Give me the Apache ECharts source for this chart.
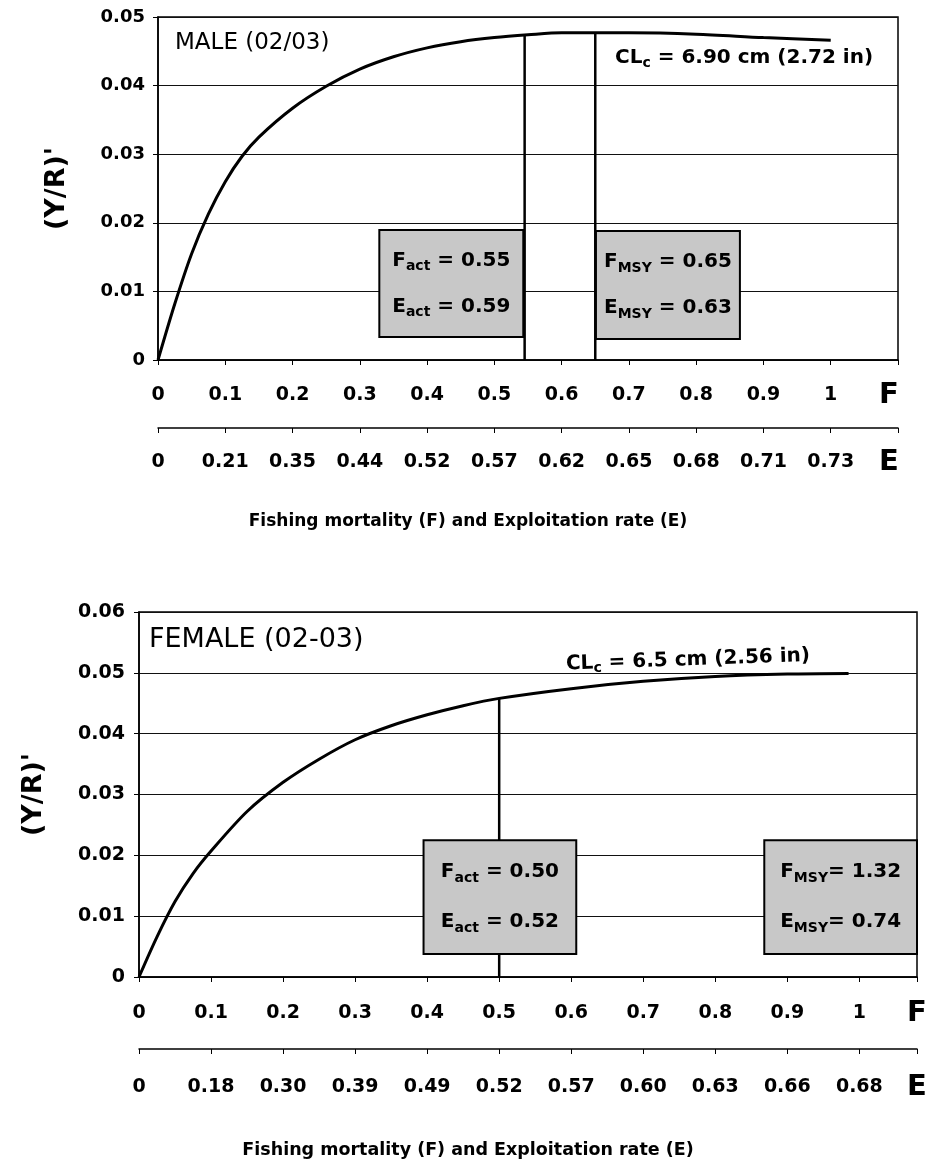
<!DOCTYPE html>
<html>
<head>
<meta charset="utf-8">
<script src="https://cdn.jsdelivr.net/npm/echarts@6/dist/echarts.min.js"></script>
<style>
html,body{margin:0;padding:0;background:#fff;}
#chart{width:932px;height:1169px;}
</style>
</head>
<body>
<div id="chart"></div>
<script>
// ---------- data ----------
const fTicks = ['0','0.1','0.2','0.3','0.4','0.5','0.6','0.7','0.8','0.9','1'];
const maleETicks = ['0','0.21','0.35','0.44','0.52','0.57','0.62','0.65','0.68','0.71','0.73'];
const femaleETicks = ['0','0.18','0.30','0.39','0.49','0.52','0.57','0.60','0.63','0.66','0.68'];
const maleYTicks = ['0','0.01','0.02','0.03','0.04','0.05'];
const femaleYTicks = ['0','0.01','0.02','0.03','0.04','0.05','0.06'];

const maleF = [0, 0.025, 0.05, 0.075, 0.1, 0.125, 0.15, 0.2, 0.25, 0.3, 0.35, 0.4, 0.45, 0.5, 0.55, 0.6, 0.65, 0.7, 0.8, 0.9, 1.0];
const maleY = [0, 0.0082, 0.0155, 0.0213, 0.0260, 0.0297, 0.0325, 0.0367, 0.0399, 0.0424, 0.0442, 0.0455, 0.0464, 0.0470, 0.0474, 0.0477, 0.0477, 0.0477, 0.0475, 0.0470, 0.0466];

const femaleF = [0, 0.025, 0.05, 0.075, 0.1, 0.15, 0.2, 0.25, 0.3, 0.35, 0.4, 0.45, 0.5, 0.6, 0.7, 0.8, 0.9, 0.985];
const femaleY = [0, 0.0066, 0.0124, 0.0170, 0.0207, 0.0272, 0.0320, 0.0358, 0.0390, 0.0413, 0.0431, 0.0446, 0.0458, 0.0474, 0.0486, 0.0494, 0.0498, 0.0499];

// reference lines [F, top of line]
const maleActLine = [0.545, 0.0474];
const maleMsyLine = [0.65, 0.0477];
const femaleActLine = [0.5, 0.0457];

// annotation boxes: [xFrom, yFrom, xTo, yTo]
const maleActBox = [0.329, 0.01895, 0.543, 0.00335];
const maleMsyBox = [0.651, 0.0188, 0.865, 0.00306];
const femaleActBox = [0.395, 0.0225, 0.607, 0.0038];
const femaleMsyBox = [0.868, 0.0225, 1.08, 0.0038];

const maleActText = ['act', '0.55', '0.59', ' = '];
const maleMsyText = ['MSY', '0.65', '0.63', ' = '];
const femaleActText = ['act', '0.50', '0.52', ' = '];
const femaleMsyText = ['MSY', '1.32', '0.74', '= '];

// ---------- helpers ----------
const FONT = 'DejaVu Sans';
function zip(a, b) { return a.map((v, i) => [v, b[i]]); }

function boxLabel(t) {
  return '{m|F}{s|' + t[0] + '}{m|' + t[3] + t[1] + '}\n{m|E}{s|' + t[0] + '}{m|' + t[3] + t[2] + '}';
}
function boxItem(b, t, lh) {
  return [
    { xAxis: b[0], yAxis: b[1],
      label: { show: true, position: 'inside', formatter: boxLabel(t), color: '#000',
        rich: {
          m: { fontFamily: FONT, fontSize: 20, fontWeight: 'bold', color: '#000', lineHeight: lh },
          s: { fontFamily: FONT, fontSize: 14, fontWeight: 'bold', color: '#000', padding: [12, 0, 0, 0] }
        } } },
    { xAxis: b[2], yAxis: b[3] }
  ];
}

function xAxisF(grid, max, margin, bigPad) {
  return {
    gridIndex: grid, type: 'value', min: 0, max: max, interval: 0.1, position: 'bottom',
    axisLine: { show: true, onZero: false, lineStyle: { color: '#000', width: 1.5 } },
    axisTick: { show: true, length: 5, lineStyle: { color: '#000', width: 1 } },
    splitLine: { show: false },
    axisLabel: {
      margin: margin, color: '#000', fontFamily: FONT, fontSize: 19, fontWeight: 'bold', lineHeight: 20,
      formatter: v => { const i = Math.round(v * 10); return i <= 10 ? fTicks[i] : '{big|F}'; },
      rich: { big: { fontFamily: FONT, fontSize: 29, fontWeight: 'bold', color: '#000', lineHeight: 20, padding: [0, bigPad, 0, 0] } }
    }
  };
}
function xAxisE(grid, max, offset, margin, labels, bigPad) {
  return {
    gridIndex: grid, type: 'value', min: 0, max: max, interval: 0.1, position: 'bottom', offset: offset,
    axisLine: { show: true, onZero: false, lineStyle: { color: '#000', width: 1.5 } },
    axisTick: { show: true, length: 5, lineStyle: { color: '#000', width: 1 } },
    splitLine: { show: false },
    axisLabel: {
      margin: margin, color: '#000', fontFamily: FONT, fontSize: 19, fontWeight: 'bold', lineHeight: 20,
      formatter: v => { const i = Math.round(v * 10); return i <= 10 ? labels[i] : '{big|E}'; },
      rich: { big: { fontFamily: FONT, fontSize: 29, fontWeight: 'bold', color: '#000', lineHeight: 20, padding: [0, bigPad, 0, 0] } }
    }
  };
}
function yAxisDef(grid, max, labels, margin, nameGap, fs) {
  return {
    gridIndex: grid, type: 'value', min: 0, max: max, interval: 0.01,
    axisLine: { show: true, lineStyle: { color: '#000', width: 1.5 } },
    axisTick: { show: true, length: 5, lineStyle: { color: '#000' } },
    splitLine: { show: true, lineStyle: { color: '#111', width: 1.2 } },
    axisLabel: { margin: margin, color: '#000', fontFamily: FONT, fontSize: fs, fontWeight: 'bold',
      formatter: v => labels[Math.round(v * 100)] },
    name: "(Y/R)'", nameLocation: 'middle', nameRotate: 90, nameGap: nameGap,
    nameTextStyle: { fontFamily: FONT, fontSize: 27, fontWeight: 'bold', color: '#000' }
  };
}
function vline(xi, yi, l) {
  return { type: 'line', xAxisIndex: xi, yAxisIndex: yi, data: [[l[0], 0], [l[0], l[1]]],
    showSymbol: false, lineStyle: { color: '#000', width: 2.5 }, z: 2, silent: true, emphasis: { disabled: true } };
}
function curve(xi, yi, xs, ys) {
  return { type: 'line', xAxisIndex: xi, yAxisIndex: yi, data: zip(xs, ys), smooth: 0.3,
    showSymbol: false, lineStyle: { color: '#000', width: 3 }, z: 3, silent: true, emphasis: { disabled: true } };
}
function boxes(xi, yi, items) {
  return { type: 'line', xAxisIndex: xi, yAxisIndex: yi, data: [], z: 10, silent: true,
    markArea: { silent: true, z: 10, itemStyle: { color: '#c8c8c8', borderColor: '#000', borderWidth: 2, opacity: 1 },
      emphasis: { disabled: true }, data: items } };
}

const titleText = 'Fishing mortality (F) and Exploitation rate (E)';

const option = {
  animation: false,
  backgroundColor: '#fff',
  grid: [
    { left: 158, top: 17, width: 740, height: 343, show: true, borderColor: '#000', borderWidth: 1.5, backgroundColor: 'transparent' },
    { left: 139, top: 612, width: 778, height: 365, show: true, borderColor: '#000', borderWidth: 1.5, backgroundColor: 'transparent' }
  ],
  xAxis: [
    xAxisF(0, 1.1, 25, 18),
    xAxisE(0, 1.1, 68, 24, maleETicks, 18),
    xAxisF(1, 1.08, 26, 0),
    xAxisE(1, 1.08, 72, 28, femaleETicks, 0)
  ],
  yAxis: [
    yAxisDef(0, 0.05, maleYTicks, 13, 88, 18),
    yAxisDef(1, 0.06, femaleYTicks, 14, 92, 19)
  ],
  series: [
    vline(0, 0, maleActLine),
    vline(0, 0, maleMsyLine),
    curve(0, 0, maleF, maleY),
    boxes(0, 0, [boxItem(maleActBox, maleActText, 46), boxItem(maleMsyBox, maleMsyText, 46)]),
    vline(2, 1, femaleActLine),
    curve(2, 1, femaleF, femaleY),
    boxes(2, 1, [boxItem(femaleActBox, femaleActText, 50), boxItem(femaleMsyBox, femaleMsyText, 50)])
  ],
  graphic: [
    { type: 'text', x: 175, y: 43, style: { text: 'MALE (02/03)', fontFamily: FONT, fontSize: 23, fill: '#000', align: 'left', verticalAlign: 'middle' } },
    { type: 'text', x: 744, y: 58, style: { text: '{m|CL}{s|c}{m| = 6.90 cm (2.72 in)}', align: 'center', verticalAlign: 'middle',
        rich: { m: { fontFamily: FONT, fontSize: 20, fontWeight: 'bold', fill: '#000' }, s: { fontFamily: FONT, fontSize: 14, fontWeight: 'bold', fill: '#000', padding: [10, 0, 0, 0] } } } },
    { type: 'text', x: 149, y: 640, style: { text: 'FEMALE (02-03)', fontFamily: FONT, fontSize: 27, fill: '#000', align: 'left', verticalAlign: 'middle' } },
    { type: 'text', x: 688, y: 660, rotation: 0.035, style: { text: '{m|CL}{s|c}{m| = 6.5 cm (2.56 in)}', align: 'center', verticalAlign: 'middle',
        rich: { m: { fontFamily: FONT, fontSize: 20, fontWeight: 'bold', fill: '#000' }, s: { fontFamily: FONT, fontSize: 14, fontWeight: 'bold', fill: '#000', padding: [10, 0, 0, 0] } } } },
    { type: 'text', x: 468, y: 522, style: { text: titleText, fontFamily: FONT, fontSize: 17, fontWeight: 'bold', fill: '#000', align: 'center', verticalAlign: 'middle' } },
    { type: 'text', x: 468, y: 1150, style: { text: titleText, fontFamily: FONT, fontSize: 17.5, fontWeight: 'bold', fill: '#000', align: 'center', verticalAlign: 'middle' } }
  ]
};

const chart = echarts.init(document.getElementById('chart'), null, { renderer: 'canvas' });
chart.setOption(option);
</script>
</body>
</html>
